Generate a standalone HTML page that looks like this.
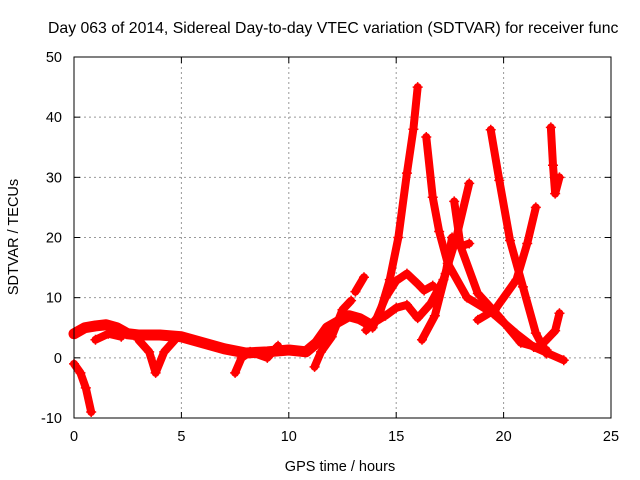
<!DOCTYPE html>
<html><head><meta charset="utf-8"><style>
body{margin:0;background:#fff;width:640px;height:480px;overflow:hidden}
svg{display:block;font-family:"Liberation Sans",sans-serif}
</style></head><body>
<svg id="chart" width="640" height="480" viewBox="0 0 640 480">
<text x="48" y="33" font-size="15.8" fill="#000">Day 063 of 2014, Sidereal Day-to-day VTEC variation (SDTVAR) for receiver func</text>
<g id="grid"></g>
<g id="ticks"></g>
<g id="marks"></g>
<rect x="74" y="57" width="537" height="361" fill="none" stroke="#000" stroke-width="1"/>
<text x="340" y="471" font-size="14.5" text-anchor="middle">GPS time / hours</text>
<text x="0" y="0" font-size="14.5" text-anchor="middle" transform="translate(18,237) rotate(-90)">SDTVAR / TECUs</text>
</svg>
<script>
const xTicks=[0,5,10,15,20,25];
const yTicks=[-10,0,10,20,30,40,50];
const trackBase=[[0,4],[0.5,5],[1,5.3],[1.5,5.5],[2,5],[2.5,4],[3,3.8],[4,3.8],[5,3.5],[6,2.5],[7,1.5],[8,0.8],[9,1],[10,1.3],[10.8,1],[11.3,2.5],[11.8,5],[12.3,6],[12.8,7],[13.3,6.5],[13.8,5.5]];
const trackDip=[[0,-1],[0.3,-2.5],[0.55,-5],[0.8,-9]];
const trackArc1=[[3,3],[3.5,1],[3.8,-2.5],[4.2,1],[4.7,3]];
const trackArc2=[[1,3],[1.6,4],[2.2,3.5]];
const trackArc3=[[7.5,-2.5],[7.8,0],[8.2,1],[9,0],[9.5,2]];
const trackArc4=[[11.2,-1.5],[11.5,1],[12,3.5],[12.5,8],[12.9,9.5]];
const trackA=[[13.6,4.6],[14.2,7],[14.7,13],[15.1,20],[15.5,30.7],[15.8,38],[16,45]];
const trackB=[[13.9,5],[14.5,10],[15,12.8],[15.5,14],[16,12.3],[16.3,11.2],[16.7,12]];
const trackC=[[13.8,5.5],[14.5,7],[15,8.3],[15.5,8.8],[16,6.6],[16.6,9],[17.2,13],[17.8,20],[18.4,29]];
const trackD=[[16.2,3],[16.8,7],[17.3,14],[17.6,20],[18,18.5],[18.4,19]];
const trackE=[[16.4,36.7],[16.7,26.7],[17,21],[17.4,15.7],[18.3,10],[19.5,7.4],[20.6,4],[21.4,1.8],[22.8,-0.4]];
const trackF=[[17.7,26],[18,18.5],[18.8,10.7],[19.8,6.8],[20.8,2.5],[22,1.3]];
const trackG=[[19.4,37.9],[19.8,29.5],[20.3,19.5],[20.9,11.8],[21.5,4.1],[22,0.7]];
const trackH=[[18.8,6.3],[19.6,8],[20.6,13],[21.1,19],[21.5,25]];
const trackI=[[22.2,38.3],[22.3,32],[22.4,27.3],[22.6,30]];
const trackJ=[[22.6,7.4],[22.4,4.5],[22,3],[21.7,2]];
const trackK=[[13.5,13.4],[13.1,11]];
const tracks=[trackBase,trackDip,trackArc1,trackArc2,trackArc3,trackArc4,trackA,trackB,trackC,trackD,trackE,trackF,trackG,trackH,trackI,trackJ,trackK];
const X0=74,X1=611,Y0=418,Y1=57,xmin=0,xmax=25,ymin=-10,ymax=50;
const sx=v=>X0+(v-xmin)/(xmax-xmin)*(X1-X0);
const sy=v=>Y0-(v-ymin)/(ymax-ymin)*(Y0-Y1);
const NS='http://www.w3.org/2000/svg';
const g=document.getElementById('grid'),t=document.getElementById('ticks'),m=document.getElementById('marks');
function mk(tag,attrs,parent){const e=document.createElementNS(NS,tag);for(const k in attrs)e.setAttribute(k,attrs[k]);parent.appendChild(e);return e;}
xTicks.forEach(v=>{const x=sx(v);
 if(v>xmin&&v<xmax){const l=mk('line',{x1:x,x2:x,y1:Y1,y2:Y0,stroke:'#999','stroke-dasharray':'2,3'},g);
 
 }
 const tl=mk('text',{x:x,y:Y0+23,'font-size':14.5,'text-anchor':'middle'},t);tl.textContent=v;
 
 
 mk('line',{x1:x,x2:x,y1:Y0,y2:Y0-6,stroke:'#000'},t);mk('line',{x1:x,x2:x,y1:Y1,y2:Y1+6,stroke:'#000'},t);});
yTicks.forEach(v=>{const y=sy(v);
 if(v>ymin&&v<ymax){const l=mk('line',{x1:X0,x2:X1,y1:y,y2:y,stroke:'#999','stroke-dasharray':'2,3'},g);
 
 }
 const tl=mk('text',{x:X0-12,y:y+5,'font-size':14.5,'text-anchor':'end'},t);tl.textContent=v;
 
 
 mk('line',{x1:X0,x2:X0+6,y1:y,y2:y,stroke:'#000'},t);mk('line',{x1:X1,x2:X1-6,y1:y,y2:y,stroke:'#000'},t);});
tracks.forEach((tr,i)=>{
 const p=mk('polyline',{points:tr.map(d=>sx(d[0])+','+sy(d[1])).join(' '),fill:'none',stroke:'#f00','stroke-width':i===0?11:8,'stroke-linejoin':'round','stroke-linecap':'round'},m);
 
 
 tr.forEach(d=>{const x=sx(d[0]),y=sy(d[1]);
  const c=mk('path',{d:`M${x-5},${y}H${x+5}M${x},${y-5}V${y+5}`,stroke:'#f00','stroke-width':1.5},m);
  
  });
});
</script>
</body></html>
